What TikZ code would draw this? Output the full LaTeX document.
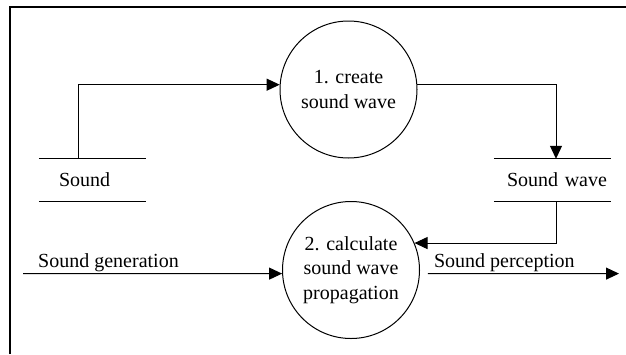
\documentclass[tikz,border=0pt]{standalone}
\usepackage{fontspec}
\setmainfont{Liberation Serif}
\usetikzlibrary{arrows.meta}
\begin{document}
\begin{tikzpicture}[x=1pt,y=-1pt,
  every node/.style={font=\fontsize{20}{24.5}\selectfont},
  proc/.style={circle,draw,line width=1pt,minimum size=137pt,inner sep=0pt,align=center},
  store/.style={minimum height=42pt,inner sep=0pt,text width=#1,align=left},
  flow/.style={line width=1pt,-{Triangle[length=13pt,width=12pt]}},
  storeline/.style={line width=1pt},
  frame/.style={line width=2pt}]
\useasboundingbox (0,0) rectangle (626,354);
\draw[frame] (10,354) -- (10,7) -- (626,7);
\node[proc] (c1) at (348.5,89.5) {1. create\\sound wave};
\node[proc] (c2) at (351,270) {2. calculate\\sound wave\\propagation};
\node[store=107pt] (sound) at (92.5,180) {\hspace*{20pt}Sound};
\node[store=117pt] (wave) at (552.5,180) {\hspace*{13pt}Sound wave};
\draw[storeline] (sound.north west) -- (sound.north east) (sound.south west) -- (sound.south east);
\draw[storeline] (wave.north west) -- (wave.north east) (wave.south west) -- (wave.south east);
\coordinate (gen) at (23,273.6);
\coordinate (perc) at (619,273.6);
\draw[flow] ([xshift=-14.5pt]sound.north) |- (c1.176);
\draw[flow] (c1.4) -| ([xshift=3.5pt]wave.north);
\draw[flow] ([xshift=3.5pt]wave.south) |- (c2.23);
\draw[flow] (gen) -- node[pos=0.33,above,inner sep=1pt]{Sound generation} (c2.183);
\draw[flow] ([xshift=8pt]c2.357) -- node[pos=0.4,above,inner sep=1pt]{Sound perception} (perc);
\end{tikzpicture}
\end{document}
